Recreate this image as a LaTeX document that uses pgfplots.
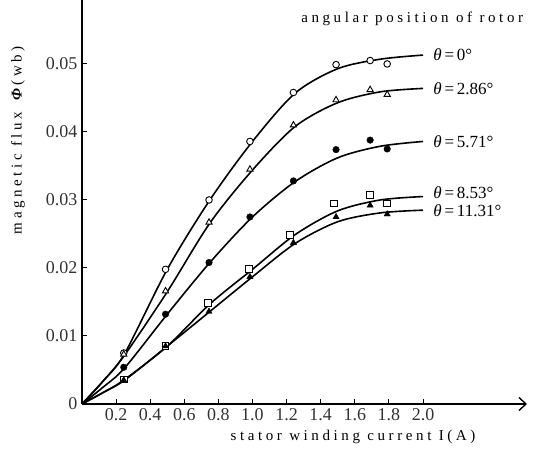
\documentclass[border=0pt]{standalone}
\usepackage{pgfplots}
\pgfplotsset{compat=1.18}
\usetikzlibrary{arrows.meta}
\usepackage{fontspec}
\setmainfont{Liberation Serif}
\newfontfamily\spaced[LetterSpace=24]{Liberation Serif}
\begin{document}
\begin{tikzpicture}
\useasboundingbox (-82pt,-53pt) rectangle (451pt,404pt);
\begin{axis}[
  scale only axis, width=445pt, height=404pt,
  xmin=0, xmax=2.61, ymin=0, ymax=0.0594,
  axis lines=left,
  x axis line style={line width=1.4pt, -{Straight Barb[length=7pt,width=13pt,line width=1.4pt]}},
  y axis line style={line width=1.4pt, -},
  xtick={0.2,0.4,0.6,0.8,1.0,1.2,1.4,1.6,1.8,2.0},
  xticklabels={0.2,0.4,0.6,0.8,1.0,1.2,1.4,1.6,1.8,2.0},
  ytick={0,0.01,0.02,0.03,0.04,0.05},
  yticklabels={0,0.01,0.02,0.03,0.04,0.05},
  tick align=inside, major tick length=5pt,
  tick style={line width=1pt, black},
  ticklabel style={font=\fontsize{18}{20}\selectfont, text=black!80},
  xticklabel style={yshift=-1pt},
  yticklabel style={xshift=-1pt},
  scaled y ticks=false,
  clip=false,
  every axis plot/.append style={black},
]
% smooth curves
\addplot[line width=1.6pt, smooth, no marks] coordinates {(0,0) (0.125,0.0034) (0.25,0.0074) (0.5,0.0198) (0.75,0.0300) (1.0,0.0386) (1.25,0.0457) (1.5,0.0493) (1.75,0.0507) (2.0,0.0513)};
\addplot[line width=1.6pt, smooth, no marks] coordinates {(0,0) (0.125,0.0034) (0.25,0.0072) (0.5,0.0165) (0.75,0.0266) (1.0,0.0344) (1.25,0.0408) (1.5,0.0443) (1.75,0.0459) (2.0,0.0464)};
\addplot[line width=1.6pt, smooth, no marks] coordinates {(0,0) (0.125,0.0025) (0.25,0.0053) (0.5,0.0132) (0.75,0.0208) (1.0,0.0275) (1.25,0.0327) (1.5,0.0362) (1.75,0.0379) (2.0,0.0386)};
\addplot[line width=1.6pt, smooth, no marks] coordinates {(0,0) (0.125,0.0017) (0.25,0.0036) (0.5,0.0085) (0.75,0.0147) (1.0,0.0198) (1.25,0.0249) (1.5,0.0284) (1.75,0.0300) (2.0,0.0305)};
\addplot[line width=1.6pt, smooth, no marks] coordinates {(0,0) (0.125,0.0017) (0.25,0.0035) (0.5,0.0085) (0.75,0.0136) (1.0,0.0187) (1.25,0.0236) (1.5,0.0268) (1.75,0.0281) (2.0,0.0285)};
% measured points
\addplot[only marks, mark=*, mark size=3.3pt, mark options={fill=white, draw=black, line width=0.9pt}] coordinates {(0.245,0.0075) (0.49,0.0198) (0.745,0.0300) (0.985,0.0386) (1.24,0.0458) (1.49,0.0499) (1.69,0.0505) (1.79,0.0500)};
\addplot[only marks, mark=triangle*, mark size=3.6pt, mark options={fill=white, draw=black, line width=0.9pt}] coordinates {(0.245,0.0073) (0.49,0.0166) (0.745,0.0267) (0.985,0.0345) (1.24,0.0410) (1.49,0.0447) (1.69,0.0462) (1.79,0.0455)};
\addplot[only marks, mark=*, mark size=3.3pt, mark options={fill=black, draw=black}] coordinates {(0.245,0.0054) (0.49,0.0132) (0.745,0.0208) (0.985,0.0275) (1.24,0.0328) (1.49,0.0374) (1.69,0.0388) (1.79,0.0375)};
\addplot[only marks, mark=square*, mark size=3.4pt, mark options={fill=white, draw=black, line width=0.9pt}] coordinates {(0.245,0.0036) (0.49,0.0085) (0.74,0.0148) (0.98,0.0198) (1.22,0.0249) (1.48,0.0295) (1.69,0.0307) (1.79,0.0295)};
\addplot[only marks, mark=triangle*, mark size=3.6pt, mark options={fill=black, draw=black}] coordinates {(0.245,0.0035) (0.49,0.0085) (0.745,0.0136) (0.985,0.0187) (1.24,0.0237) (1.49,0.0275) (1.69,0.0292) (1.79,0.0279)};
% labels
\node[anchor=west, font=\fontsize{17}{19}\selectfont] at (axis cs:2.04,0.0513) {\textit{θ}\,=\,0°};
\node[anchor=west, font=\fontsize{17}{19}\selectfont] at (axis cs:2.04,0.0464) {\textit{θ}\,=\,2.86°};
\node[anchor=west, font=\fontsize{17}{19}\selectfont] at (axis cs:2.04,0.0385) {\textit{θ}\,=\,5.71°};
\node[anchor=west, font=\fontsize{17}{19}\selectfont] at (axis cs:2.04,0.0310) {\textit{θ}\,=\,8.53°};
\node[anchor=west, font=\fontsize{17}{19}\selectfont] at (axis cs:2.04,0.0284) {\textit{θ}\,=\,11.31°};
\node[font=\fontsize{15}{17}\selectfont] at (rel axis cs:0.742,0.953) {\spaced angular position of rotor};
\node[font=\fontsize{15}{17}\selectfont, yshift=-33pt] at (rel axis cs:0.609,0) {\spaced stator winding current I(A)};
\node[font=\fontsize{15}{17}\selectfont, xshift=-64pt, rotate=90] at (rel axis cs:0,0.653) {\spaced magnetic flux \textbf{\textit{Φ}}(wb)};
\end{axis}
\end{tikzpicture}
\end{document}
